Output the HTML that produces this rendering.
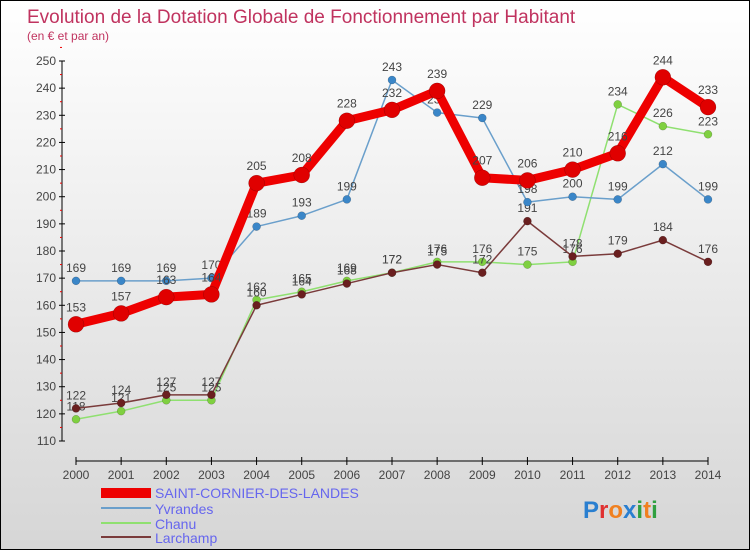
<!DOCTYPE html>
<html><head><meta charset="utf-8"><style>
body{margin:0;width:750px;height:550px;overflow:hidden;font-family:"Liberation Sans",sans-serif}
#wrap{position:relative;width:748px;height:548px;border:1px solid #000;background:linear-gradient(#fff,#d6d6d6)}
</style></head><body>
<div id="wrap">
<svg id="svg" width="748" height="548" xmlns="http://www.w3.org/2000/svg">
<text x="26" y="22" font-size="19" fill="#c0335f">Evolution de la Dotation Globale de Fonctionnement par Habitant</text>
<text x="26" y="39" font-size="12" fill="#c0335f">(en € et par an)</text>
<g id="axes"></g><g id="series"></g>
<g>
<rect x="100" y="487" width="50" height="10" fill="#e00"/>
<text x="154" y="497" font-size="14" fill="#6666ee">SAINT-CORNIER-DES-LANDES</text>
<rect x="100" y="506" width="50" height="2" fill="#6a9fcb"/>
<text x="154" y="513" font-size="14" fill="#6666ee">Yvrandes</text>
<rect x="100" y="521" width="50" height="2" fill="#8fe070"/>
<text x="154" y="528" font-size="14" fill="#6666ee">Chanu</text>
<rect x="100" y="535" width="50" height="2" fill="#7a3b3b"/>
<text x="154" y="542" font-size="14" fill="#6666ee">Larchamp</text>
</g>
<text x="582" y="517" font-size="24" font-weight="bold"><tspan fill="#2a7fd0">P</tspan><tspan fill="#e03030">r</tspan><tspan fill="#f08020">o</tspan><tspan fill="#2a7fd0">x</tspan><tspan fill="#30a040">i</tspan><tspan fill="#f08020">t</tspan><tspan fill="#30a040">i</tspan></text>
</svg></div>
<script>
const years=[2000,2001,2002,2003,2004,2005,2006,2007,2008,2009,2010,2011,2012,2013,2014];
const saintCornier=[153,157,163,164,205,208,228,232,239,207,206,210,216,244,233];
const yvrandes=[169,169,169,170,189,193,199,243,231,229,198,200,199,212,199];
const chanu=[118,121,125,125,162,165,169,172,176,176,175,176,234,226,223];
const larchamp=[122,124,127,127,160,164,168,172,175,172,191,178,179,184,176];
const yTicks=[110,120,130,140,150,160,170,180,190,200,210,220,230,240,250];
const NS="http://www.w3.org/2000/svg";
const X=i=>75+i*(632/(years.length-1));
const Y=v=>440-(v-110)*(380/140);
function mk(tag,attrs,parent){const e=document.createElementNS(NS,tag);for(const k in attrs)e.setAttribute(k,attrs[k]);parent.appendChild(e);return e;}
const ax=document.getElementById('axes'),sr=document.getElementById('series');
let a=mk('line',{x1:61,y1:Y(250),x2:61,y2:Y(110),stroke:'#000'},ax);


yTicks.forEach(t=>{
 mk('line',{x1:58,x2:64,y1:Y(t),y2:Y(t),stroke:'#000'},ax);
 mk('line',{x1:59,x2:61,y1:Y(t+5),y2:Y(t+5),stroke:'#e00'},ax);
 const tx=mk('text',{x:55,y:Y(t)+4,'font-size':12,'text-anchor':'end',fill:'#444'},ax);tx.textContent=t;
 
 
});
a=mk('line',{x1:X(0),y1:460,x2:X(14),y2:460,stroke:'#000'},ax);


years.forEach((yr,i)=>{
 mk('line',{x1:X(i),x2:X(i),y1:456,y2:464,stroke:'#000'},ax);
 const tx=mk('text',{x:X(i),y:478,'font-size':12,'text-anchor':'middle',fill:'#444'},ax);tx.textContent=yr;
 
 
});
function series(vals,color,w,r,dot,name){
 const g=mk('g',{},sr);
 
 
 const p=mk('polyline',{points:vals.map((v,i)=>X(i)+','+Y(v)).join(' '),fill:'none',stroke:color,'stroke-width':w,'stroke-linejoin':'round'},g);
 
 
 vals.forEach((v,i)=>{
  const c=mk('circle',{cx:X(i),cy:Y(v),r:r,fill:dot,stroke:'rgba(0,0,0,0.3)','stroke-width':0.5},g);
  
  
  const t=mk('text',{x:X(i),y:Y(v)-r-5,'font-size':12,'text-anchor':'middle',fill:'#444'},g);t.textContent=v;
  
  
 });
}
series(chanu,'#8fe070',1.5,4,'#7fd040','chanu');
series(larchamp,'#7a3b3b',1.5,4,'#6a1f1f','larchamp');
series(yvrandes,'#6a9fcb',1.5,4,'#3a86c8','yvrandes');
series(saintCornier,'#ee0000',9,8,'#e00000','saint-cornier');
</script>
</body></html>
